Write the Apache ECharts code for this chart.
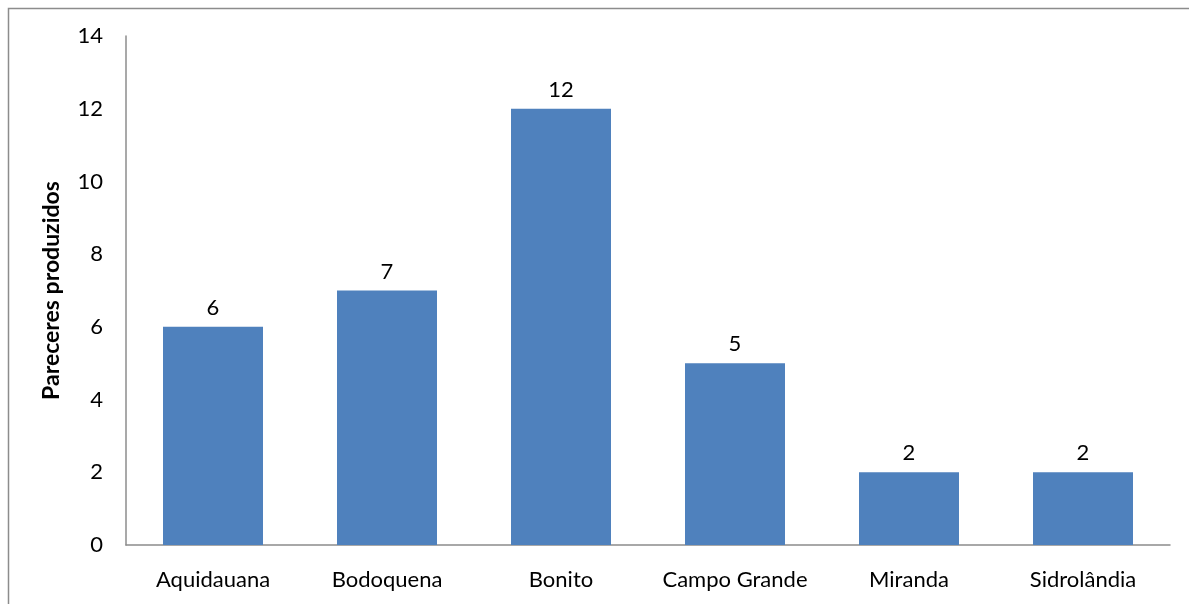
<!DOCTYPE html>
<html>
<head>
<meta charset="utf-8">
<script src="https://cdn.jsdelivr.net/npm/echarts@6/dist/echarts.min.js"></script>
<style>
html,body{margin:0;padding:0;background:#fff;}
#chart{width:1189px;height:604px;}
</style>
</head>
<body>
<div id="chart"></div>
<script>
const categories = ['Aquidauana', 'Bodoquena', 'Bonito', 'Campo Grande', 'Miranda', 'Sidrolândia'];
const values = [6, 7, 12, 5, 2, 2];
const yAxisTitle = 'Pareceres produzidos';

const font = 'Lato, "Open Sans", sans-serif';
const chart = echarts.init(document.getElementById('chart'));
chart.setOption({
  animation: false,
  backgroundColor: '#fff',
  graphic: [{
    type: 'rect',
    shape: { x: 8.5, y: 8.5, width: 1300, height: 700 },
    style: { fill: 'none', stroke: '#8c8c8c', lineWidth: 1.5 },
    z: -1
  }],
  grid: { left: 126, top: 36, right: 19, bottom: 59 },
  xAxis: {
    type: 'category',
    data: categories,
    axisLine: { lineStyle: { color: '#8c8c8c', width: 1.5 } },
    axisTick: { show: false },
    axisLabel: { color: '#000', fontSize: 22, fontFamily: font, margin: 24, interval: 0, hideOverlap: false }
  },
  yAxis: {
    type: 'value',
    min: 0, max: 14, interval: 2,
    name: yAxisTitle,
    nameLocation: 'middle',
    nameGap: 63,
    nameTextStyle: { color: '#000', fontSize: 23, fontWeight: 'bold', fontFamily: font },
    axisLine: { show: true, lineStyle: { color: '#8c8c8c', width: 1.5 } },
    axisTick: { show: false },
    splitLine: { show: false },
    axisLabel: { color: '#000', fontSize: 22, fontFamily: font, margin: 23 }
  },
  series: [{
    type: 'bar',
    data: values,
    barWidth: 100,
    itemStyle: { color: '#4F81BD' },
    label: { show: true, position: 'top', distance: 8, color: '#000', fontSize: 22, fontFamily: font }
  }]
});
</script>
</body>
</html>
